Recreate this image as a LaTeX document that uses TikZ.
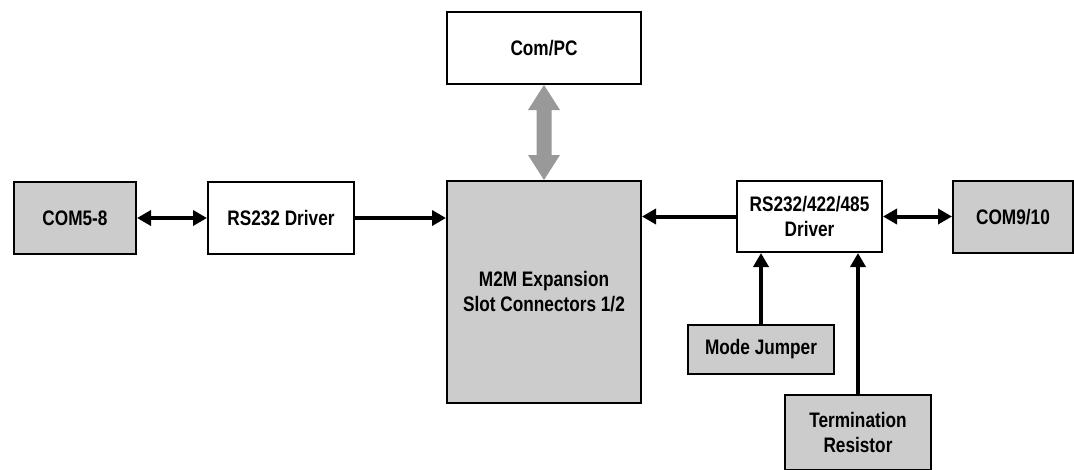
\documentclass[tikz,border=0pt]{standalone}
\usepackage{fontspec}
\setmainfont{Liberation Sans}[FakeStretch=0.82]
\usetikzlibrary{arrows.meta,calc}
\definecolor{boxgray}{HTML}{CCCCCC}
\definecolor{arrgray}{HTML}{999999}
\begin{document}
\begin{tikzpicture}[x=1pt,y=-1pt,
  blk/.style={draw=black,line width=2pt,inner sep=0pt,align=center,
    font=\bfseries\fontsize{21}{25}\selectfont},
  wbox/.style={blk,fill=white},
  gbox/.style={blk,fill=boxgray},
  conn/.style={line width=4pt,-{Triangle[length=14pt,width=15pt]}},
  bconn/.style={line width=4pt,{Triangle[length=14pt,width=15pt]}-{Triangle[length=14pt,width=15pt]}}]
\useasboundingbox (0,0) rectangle (1074,469);
\clip (0,0) rectangle (1074,469);
\fill[white] (0,0) rectangle (1074,469);
\node[gbox,minimum width=122pt,minimum height=72pt] (com58) at (75,218) {COM5-8};
\node[wbox,minimum width=146pt,minimum height=72pt] (rs232) at (281,218) {RS232 Driver};
\node[gbox,minimum width=194pt,minimum height=222pt] (m2m) at (544,292) {M2M Expansion\\Slot Connectors 1/2};
\node[wbox,minimum width=194pt,minimum height=72pt] (pc) at (544,48) {Com/PC};
\node[wbox,minimum width=145pt,minimum height=71pt] (rs485) at (809.5,216.5) {RS232/422/485\\Driver};
\node[gbox,minimum width=120pt,minimum height=72pt] (com910) at (1013,217) {COM9/10};
\node[gbox,minimum width=146pt,minimum height=49pt] (mj) at (761,349.5) {Mode Jumper};
\node[gbox,minimum width=146pt,minimum height=75pt] (tr) at (858,432.5) {Termination\\Resistor};

\draw[bconn] (com58.east) -- (rs232.west);
\draw[conn] (rs232.east) -- (rs232.east -| m2m.west);
\draw[conn] (rs485.west) -- (rs485.west -| m2m.east);
\draw[bconn] (rs485.east) -- (rs485.east -| com910.west);
\draw[conn] (mj.north) -- (mj.north |- rs485.south);
\draw[conn] (tr.north) -- (tr.north |- rs485.south);
\fill[arrgray] (pc.south) -- ++(16,25) -- ++(-8.5,0) -- ++(0,45) -- ++(8.5,0) -- (m2m.north)
  -- ++(-16,-25) -- ++(8.5,0) -- ++(0,-45) -- ++(-8.5,0) -- cycle;
\end{tikzpicture}
\end{document}
